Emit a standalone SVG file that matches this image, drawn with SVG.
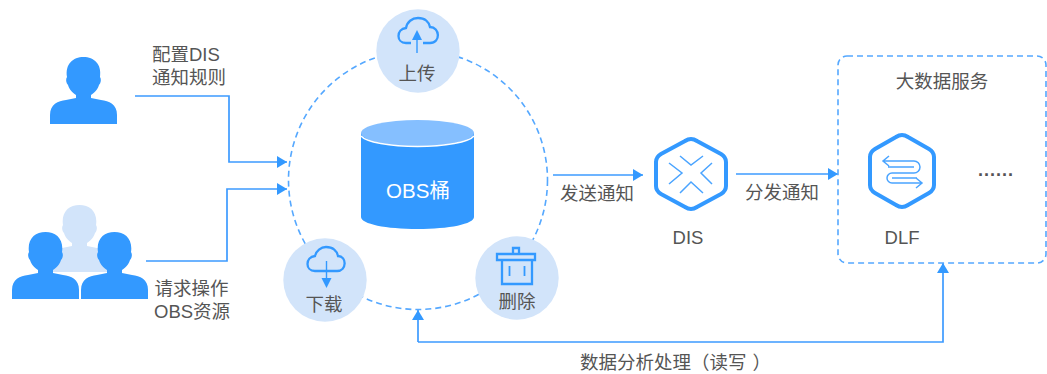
<svg xmlns="http://www.w3.org/2000/svg" width="1047" height="374" viewBox="0 0 1047 374">
<defs>
<style>
text{font-family:"Liberation Sans","Noto Sans CJK SC",sans-serif;font-size:18.500px;fill:#555}
.m{text-anchor:middle}
.c{fill:none;stroke:#3d9bff;stroke-width:1.700}
.d{fill:none;stroke:#55a8ff;stroke-width:1.600;stroke-dasharray:6 4}
.b{fill:#d2e4fa}
.i{fill:none;stroke:#3399ff;stroke-width:2.300}
.s{fill:none;stroke:#3399ff;stroke-width:1.400}
.h{fill:none;stroke:#3399ff;stroke-width:4}
.l{fill:none;stroke:#4aa4ff;stroke-width:1.500}
</style>
<marker id="a" markerUnits="userSpaceOnUse" markerWidth="11" markerHeight="12" refX="10" refY="6" orient="auto"><path d="M0 0L10 6L0 12Z" fill="#3399ff"/></marker>
<path id="p" d="M0 67V58C0 47 8 44 16 43L26 41V38C21 35 19 31 18 28C16 26 15.500 22 17 20C15 7 23 0 33.500 0C44 0 52 7 50 20C51.500 22 51 26 49 28C48 31 46 35 41 38V41L51 43C59 44 67 47 67 58V67Z"/>
</defs>
<rect width="1047" height="374" fill="#fff"/>
<g id="connectors">
<path class="c" d="M135 96H229V162H287" marker-end="url(#a)"/>
<path class="c" d="M146 261H227V189H287" marker-end="url(#a)"/>
<path class="c" d="M553 175H643" marker-end="url(#a)"/>
<path class="c" d="M736 174H838" marker-end="url(#a)"/>
<path class="c" d="M418 342V310" marker-end="url(#a)"/>
<path class="c" d="M418 342H943V263" marker-end="url(#a)"/>
<text x="152" y="61">配置DIS</text>
<text x="152" y="84">通知规则</text>
<text x="154.500" y="295">请求操作</text>
<text x="154" y="318">OBS资源</text>
<text x="560" y="200">发送通知</text>
<text x="745" y="199">分发通知</text>
<text x="580" y="369">数据分析处理（读写<tspan dx="6">）</tspan></text>
</g>
<g id="user"><use href="#p" x="50" y="57" fill="#3399ff"/></g>
<g id="users">
<use href="#p" x="46" y="205" class="b"/>
<use href="#p" x="12" y="232" fill="#3399ff"/>
<use href="#p" x="81" y="232" fill="#3399ff"/>
</g>
<g id="ring"><circle cx="418" cy="180" r="129.500" class="d"/></g>
<g id="bucket">
<path d="M361 133V217C361 224 386 229 417.500 229S474 224 474 217V133Z" fill="#3399ff"/>
<ellipse cx="417.500" cy="133" rx="56.500" ry="13" fill="#85bfff"/>
<path d="M361 136C366 142 390 146.500 417.500 146.500S469 142 474 136" fill="none" stroke="#fff" stroke-width="1.500"/>
<text x="418" y="198" class="m" style="font-size:20.500px;fill:#fff">OBS桶</text>
</g>
<g id="upload">
<circle cx="418" cy="51" r="41.700" class="b"/>
<path class="i" d="M411 43H406C396 43 396 29 406 28C407 22 412 18 418 18C425 18 429 22 430 27C440 27 441 43 430 43H423"/>
<path d="M417 30L422 40H412Z" fill="#3399ff"/><path class="s" d="M417 38V53"/>
<text x="417" y="80" class="m">上传</text>
</g>
<g id="download">
<circle cx="325" cy="280" r="41.700" class="b"/>
<path class="i" d="M315 271C305 271 305 257 315 256C316 251 321 247 326 247C333 247 337 251 338 256C347 256 347 271 337 271Z"/>
<path d="M326.500 288L321.500 278H331.500Z" fill="#3399ff"/><path class="s" d="M326.500 261V280"/>
<text x="324" y="311" class="m">下载</text>
</g>
<g id="delete">
<circle cx="517" cy="278" r="41.700" class="b"/>
<path class="i" d="M497 254H535V260H497ZM513 254V248H519V254M502 260V284H532V260"/>
<path class="i" style="stroke-width:1.800" d="M509.500 266V276M524.500 266V276"/>
<text x="517" y="308" class="m">删除</text>
</g>
<g id="dis">
<path class="h" d="M685 141Q691 137 697 141L721 154Q726 157 726 162V186Q726 191 721 194L697 207Q691 211 685 207L661 194Q656 191 656 186V162Q656 157 661 154Z"/>
<path class="l" d="M680 156L691 165L703 156M680 193L691 182L703 193M669 163L682 173L669 184M712 163L701 173L712 184"/>
<text x="688" y="244" class="m">DIS</text>
</g>
<g id="services">
<rect x="838" y="56" width="208" height="207" rx="9" class="d"/>
<text x="942" y="88" class="m">大数据服务</text>
<path class="h" d="M896 137Q902 133 908 137L929 149Q934 152 934 157V185Q934 190 929 193L908 205Q902 209 896 205L875 193Q870 190 870 185V157Q870 152 875 149Z"/>
<path class="l" d="M884 161H914A6 6 0 0 1 914 173H892A5 5 0 0 0 892 183H921M888 167H914M917 178H892M889 156L883 161L889 166M916 178L922 183L916 188"/>
<text x="902" y="244" class="m">DLF</text>
<text x="978" y="176" style="font-size:18px;letter-spacing:1px;font-weight:bold">......</text>
</g>
</svg>
